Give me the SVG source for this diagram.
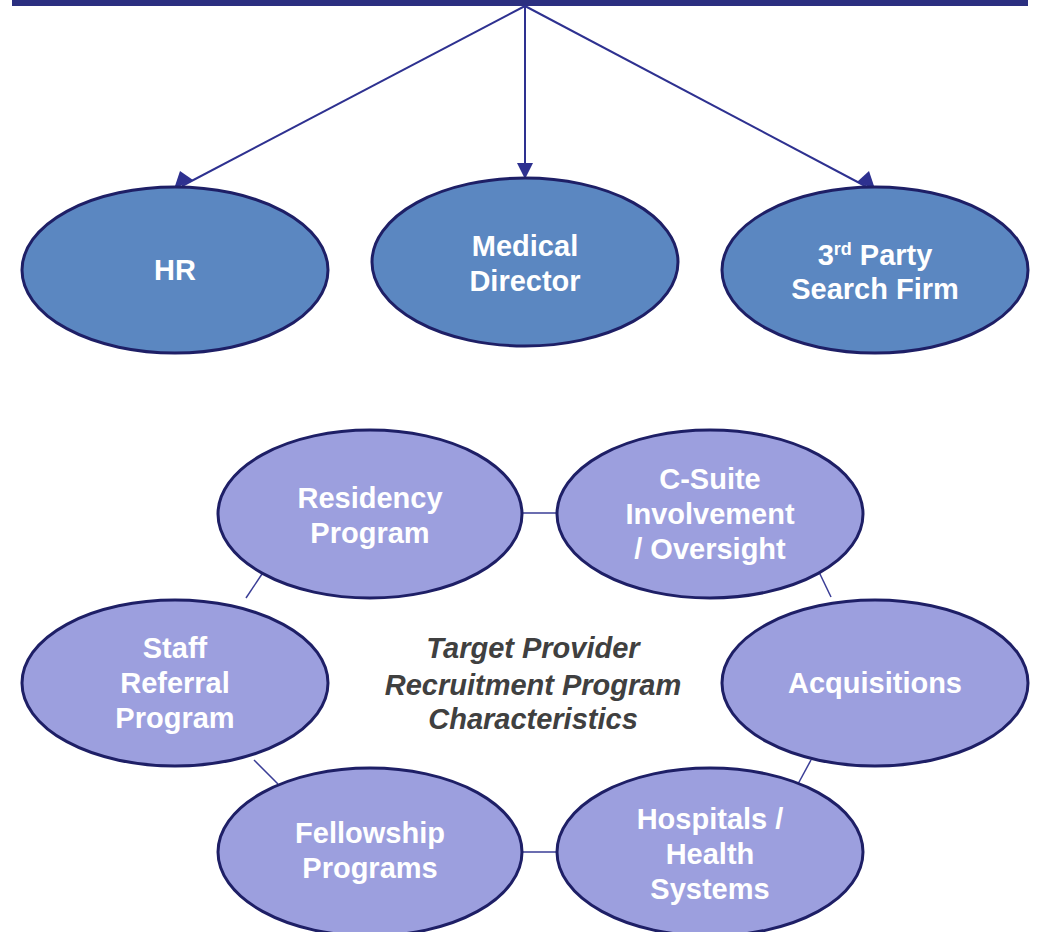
<svg xmlns="http://www.w3.org/2000/svg" width="1041" height="932" viewBox="0 0 1041 932">
<defs>
<style>
.top{fill:#5b87c1;stroke:#1e1f66;stroke-width:3}
.bot{fill:#9c9fde;stroke:#1e1f66;stroke-width:3}
.lbl{font-family:"Liberation Sans",Arial,sans-serif;font-weight:bold;font-size:29px;fill:#ffffff;text-anchor:middle}
.ctr{font-family:"Liberation Sans",Arial,sans-serif;font-weight:bold;font-style:italic;font-size:29px;fill:#404040;text-anchor:middle}
.conn{stroke:#2e3190;stroke-width:2;fill:none}
.head{fill:#2e3190}
.link{stroke:#3a3d96;stroke-width:1.5;fill:none}
</style>
</defs>
<rect width="1041" height="932" fill="#ffffff"/>
<rect id="topbar" x="12" y="0" width="1016" height="6" fill="#2b2f80"/>
<g id="connectors">
<path d="M525,6 L182,186" class="conn"/>
<path d="M525,6 L525,178" class="conn"/>
<path d="M525,6 L867,187" class="conn"/>
<path class="head" d="M174,189 L193,180 L180,171 z"/>
<path class="head" d="M517,163 L533,163 L525,179 z"/>
<path class="head" d="M875,189 L857,182 L869,171 z"/>
<line class="link" x1="523" y1="513" x2="557" y2="513"/>
<line class="link" x1="523" y1="852" x2="557" y2="852"/>
<line class="link" x1="262" y1="574" x2="246" y2="598"/>
<line class="link" x1="819" y1="572" x2="831" y2="597"/>
<line class="link" x1="811" y1="760" x2="798" y2="784"/>
<line class="link" x1="254" y1="760" x2="278" y2="784"/>
</g>
<g id="hr"><ellipse class="top" cx="175" cy="270" rx="153" ry="83"/><text class="lbl" x="175" y="280">HR</text></g>
<g id="medical-director"><ellipse class="top" cx="525" cy="262" rx="153" ry="84"/><text class="lbl" x="525" y="256">Medical</text><text class="lbl" x="525" y="291">Director</text></g>
<g id="search-firm"><ellipse class="top" cx="875" cy="270" rx="153" ry="83"/><text class="lbl" x="875" y="265">3<tspan font-size="18" dy="-10">rd</tspan><tspan dy="10"> Party</tspan></text><text class="lbl" x="875" y="299">Search Firm</text></g>
<g id="residency"><ellipse class="bot" cx="370" cy="514" rx="152" ry="84"/><text class="lbl" x="370" y="508">Residency</text><text class="lbl" x="370" y="543">Program</text></g>
<g id="csuite"><ellipse class="bot" cx="710" cy="514" rx="153" ry="84"/><text class="lbl" x="710" y="489">C-Suite</text><text class="lbl" x="710" y="524">Involvement</text><text class="lbl" x="710" y="559">/ Oversight</text></g>
<g id="staff-referral"><ellipse class="bot" cx="175" cy="683" rx="153" ry="83"/><text class="lbl" x="175" y="658">Staff</text><text class="lbl" x="175" y="693">Referral</text><text class="lbl" x="175" y="728">Program</text></g>
<g id="acquisitions"><ellipse class="bot" cx="875" cy="683" rx="153" ry="83"/><text class="lbl" x="875" y="693">Acquisitions</text></g>
<g id="fellowship"><ellipse class="bot" cx="370" cy="852" rx="152" ry="84"/><text class="lbl" x="370" y="843">Fellowship</text><text class="lbl" x="370" y="878">Programs</text></g>
<g id="hospitals"><ellipse class="bot" cx="710" cy="852" rx="153" ry="84"/><text class="lbl" x="710" y="829">Hospitals /</text><text class="lbl" x="710" y="864">Health</text><text class="lbl" x="710" y="899">Systems</text></g>
<g id="center-label"><text class="ctr" x="533" y="658">Target Provider</text><text class="ctr" x="533" y="695">Recruitment Program</text><text class="ctr" x="533" y="729">Characteristics</text></g>
</svg>
